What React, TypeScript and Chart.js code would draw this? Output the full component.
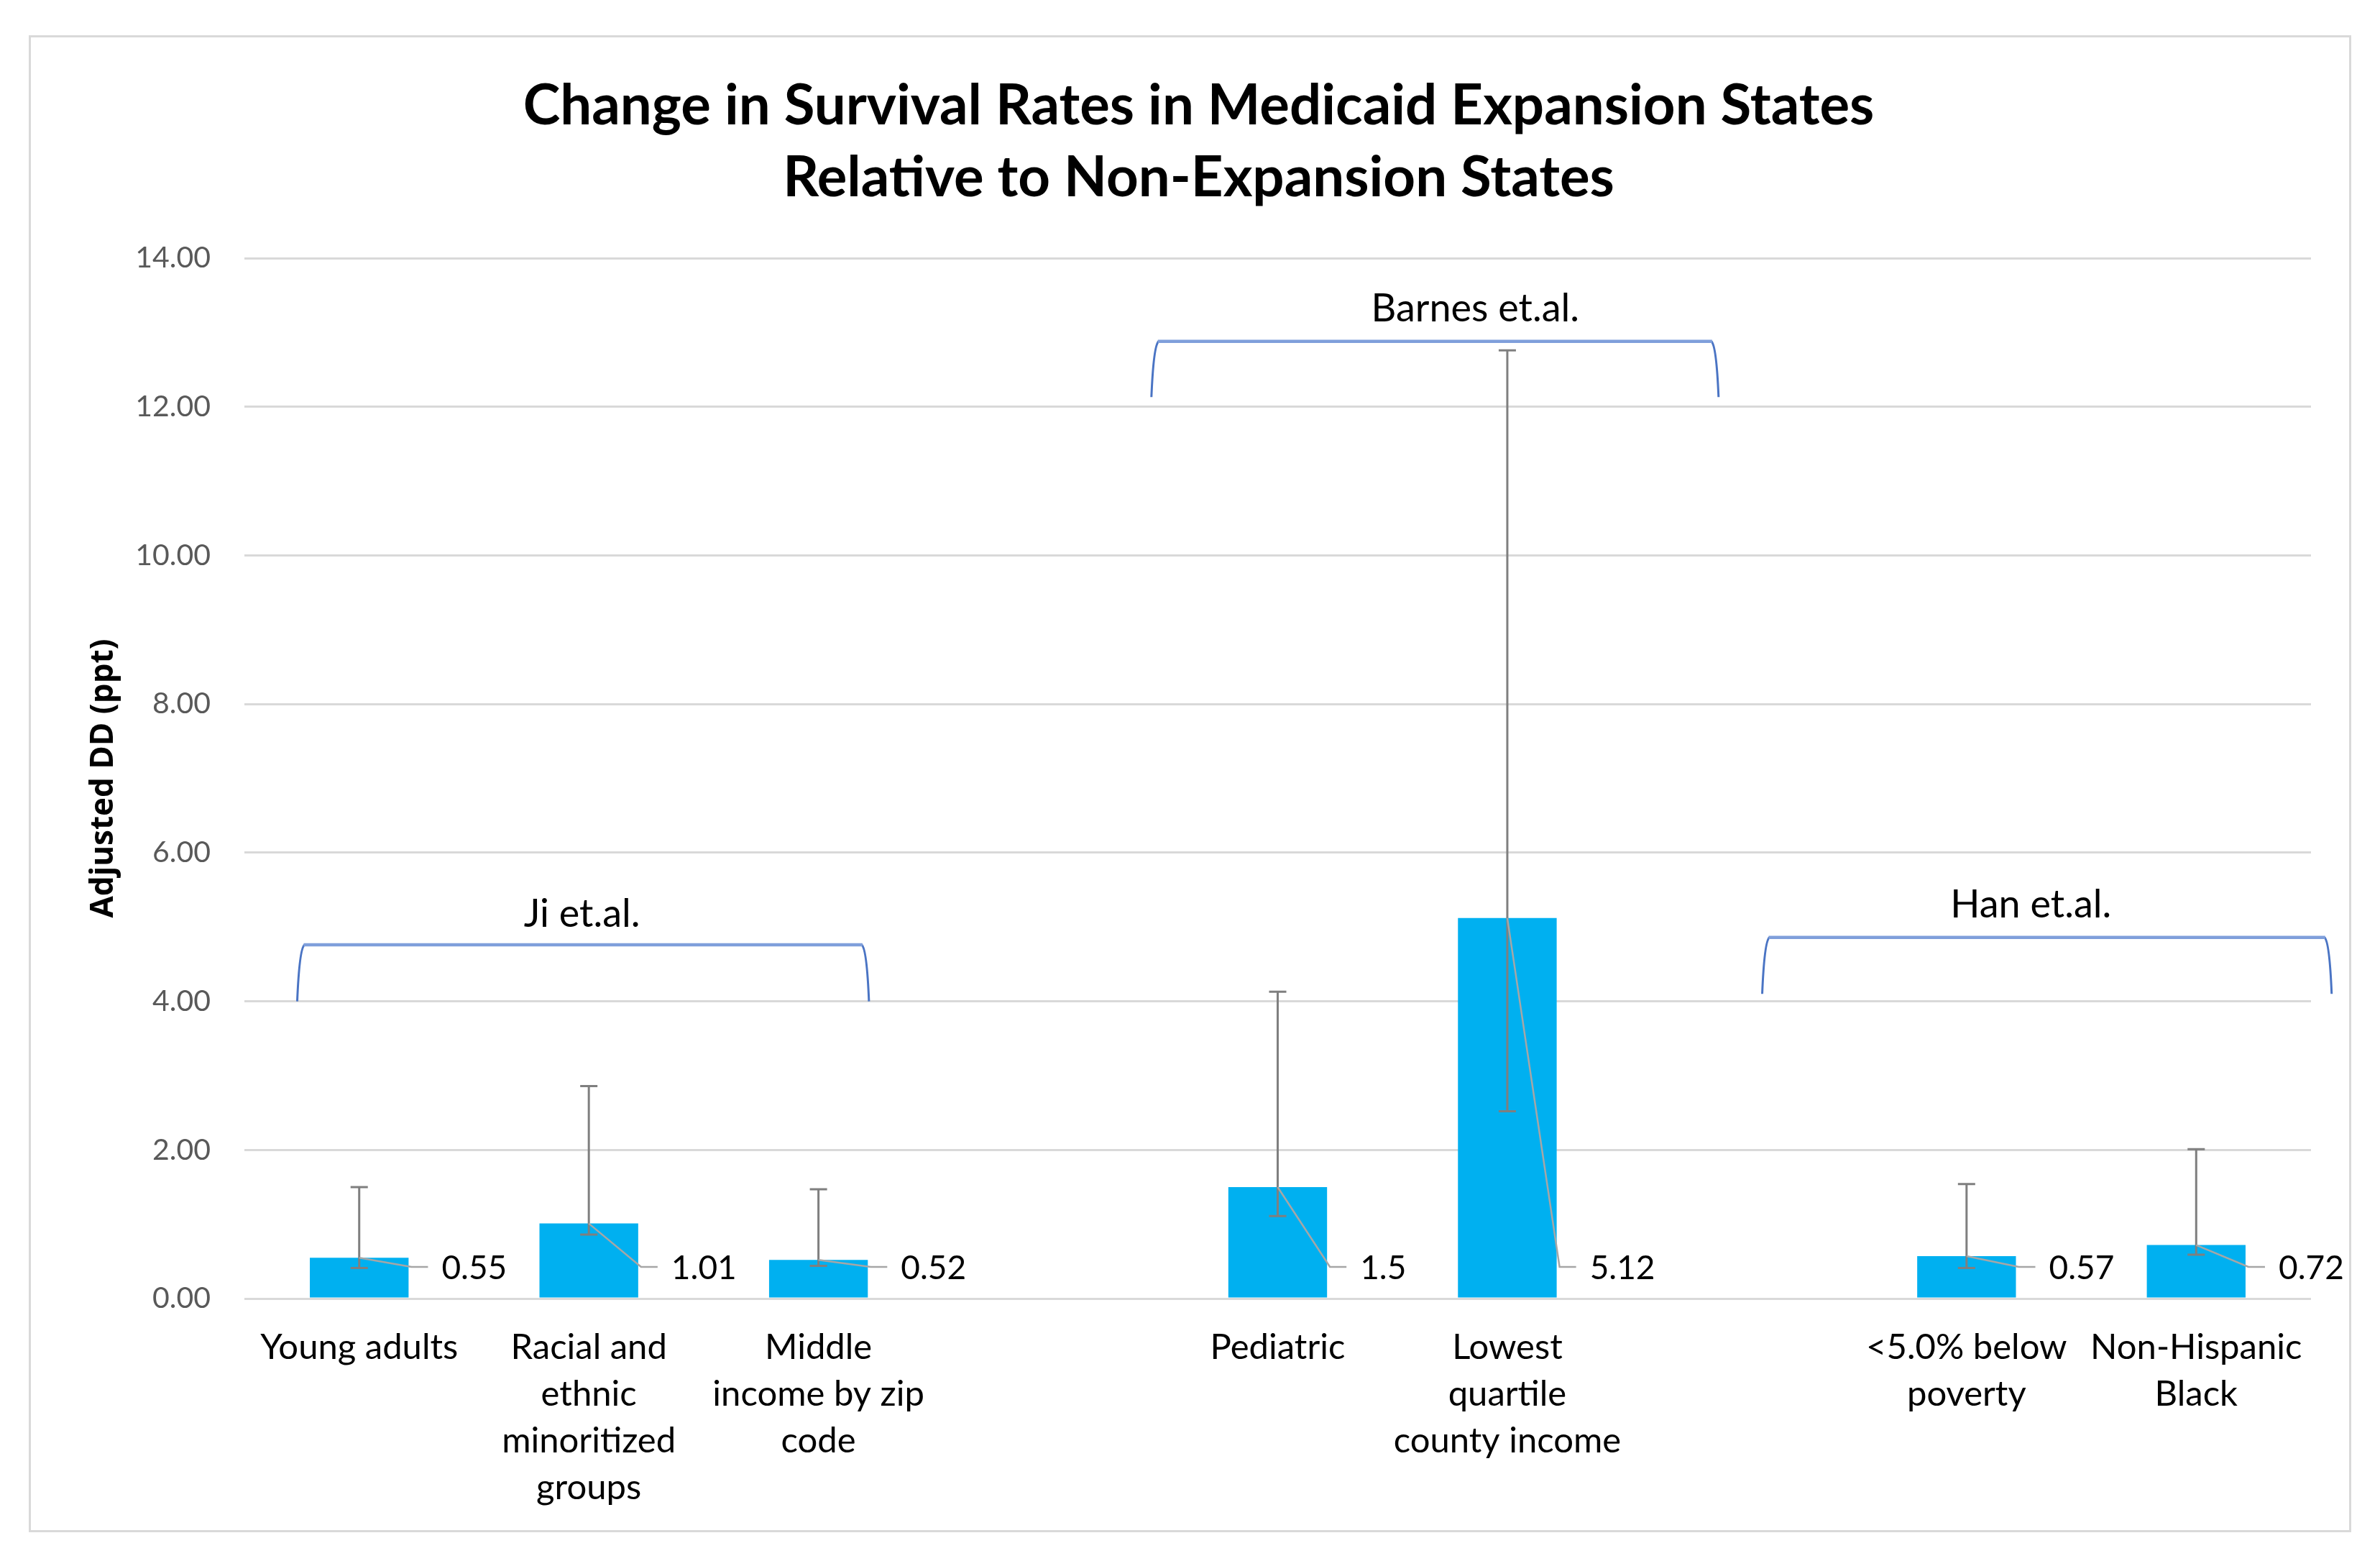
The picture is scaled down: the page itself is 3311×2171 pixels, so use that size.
import React, { useEffect, useRef } from 'react';
import { Chart, registerables } from 'chart.js';

Chart.register(...registerables);

// ---------------- data ----------------
const categories: (string | string[])[] = [
  'Young adults',
  ['Racial and', 'ethnic', 'minoritized', 'groups'],
  ['Middle', 'income by zip', 'code'],
  '',
  'Pediatric',
  ['Lowest', 'quartile', 'county income'],
  '',
  ['<5.0% below', 'poverty'],
  ['Non-Hispanic', 'Black'],
];
const values: (number | null)[] = [0.55, 1.01, 0.52, null, 1.5, 5.12, null, 0.57, 0.72];
const errorLow: (number | null)[] = [0.41, 0.86, 0.44, null, 1.11, 2.52, null, 0.41, 0.59];
const errorHigh: (number | null)[] = [1.5, 2.86, 1.47, null, 4.13, 12.76, null, 1.54, 2.01];
const yTicks = [0, 2, 4, 6, 8, 10, 12, 14];

const studyNames = ['Ji et.al.', 'Barnes et.al.', 'Han et.al.'];
// bracket spans, in category-index units and value units (annotation placement)
const studyFrom = [-0.27, 3.45, 6.11];
const studyTo = [2.22, 5.92, 8.59];
const studyTop = [4.76, 12.88, 4.86];
const studyBottom = [4.0, 12.13, 4.1];
const studyLabelAt = [0.97, 4.86, 7.28];
const studyLabelY = [5.17, 13.32, 5.3];

const TITLE = ['Change in Survival Rates in Medicaid Expansion States', 'Relative to Non-Expansion States'];
const Y_TITLE = 'Adjusted DD (ppt)';

// ---------------- plugins ----------------
const idxToPx = (chart: any, i: number) => {
  const xs = chart.scales.x;
  const p0 = xs.getPixelForValue(0);
  const p1 = xs.getPixelForValue(1);
  return p0 + i * (p1 - p0);
};

const overlayPlugin = {
  id: 'overlay',
  afterDatasetsDraw(chart: any) {
    const ctx = chart.ctx;
    const ys = chart.scales.y;
    const meta = chart.getDatasetMeta(0);
    ctx.save();
    // error bars
    ctx.strokeStyle = '#7f7f7f';
    ctx.lineWidth = 3;
    meta.data.forEach((bar: any, i: number) => {
      const lo = errorLow[i];
      const hi = errorHigh[i];
      if (values[i] == null || lo == null || hi == null) return;
      const x = bar.x;
      const yl = ys.getPixelForValue(lo);
      const yh = ys.getPixelForValue(hi);
      ctx.beginPath();
      ctx.moveTo(x, yl);
      ctx.lineTo(x, yh);
      ctx.moveTo(x - 12, yl);
      ctx.lineTo(x + 12, yl);
      ctx.moveTo(x - 12, yh);
      ctx.lineTo(x + 12, yh);
      ctx.stroke();
    });
    // data labels with leader lines
    const y0 = ys.getPixelForValue(0);
    const labelY = y0 - 44;
    ctx.font = '46px Lato';
    ctx.textAlign = 'left';
    ctx.textBaseline = 'middle';
    meta.data.forEach((bar: any, i: number) => {
      const v = values[i];
      if (v == null) return;
      const half = bar.width / 2;
      const textX = bar.x + half + 46;
      ctx.strokeStyle = '#a6a6a6';
      ctx.lineWidth = 2.5;
      ctx.beginPath();
      ctx.moveTo(bar.x, bar.y);
      ctx.lineTo(textX - 42, labelY);
      ctx.lineTo(textX - 19, labelY);
      ctx.stroke();
      ctx.fillStyle = '#000000';
      ctx.fillText(String(v), textX, labelY + 2);
    });
    // study brackets
    studyNames.forEach((name, k) => {
      const xl = idxToPx(chart, studyFrom[k]);
      const xr = idxToPx(chart, studyTo[k]);
      const yt = ys.getPixelForValue(studyTop[k]);
      const yb = ys.getPixelForValue(studyBottom[k]);
      ctx.strokeStyle = '#4a74c4';
      ctx.lineWidth = 3;
      ctx.beginPath();
      ctx.moveTo(xl, yb);
      ctx.quadraticCurveTo(xl + 3, yt + 6, xl + 10, yt);
      ctx.moveTo(xr, yb);
      ctx.quadraticCurveTo(xr - 3, yt + 6, xr - 10, yt);
      ctx.stroke();
      ctx.strokeStyle = '#7f9fdb';
      ctx.lineWidth = 4.5;
      ctx.beginPath();
      ctx.moveTo(xl + 9, yt);
      ctx.lineTo(xr - 9, yt);
      ctx.stroke();
      ctx.fillStyle = '#000000';
      ctx.font = '54px Lato';
      ctx.textAlign = 'center';
      ctx.textBaseline = 'middle';
      ctx.fillText(name, idxToPx(chart, studyLabelAt[k]), ys.getPixelForValue(studyLabelY[k]));
    });
    ctx.restore();
  },
};

export default function App() {
  const canvasRef = useRef<HTMLCanvasElement | null>(null);

  useEffect(() => {
    document.body.style.margin = '0';
    const canvas = canvasRef.current;
    if (!canvas) return;
    const chart = new Chart(canvas, {
      type: 'bar',
      data: {
        labels: categories as any,
        datasets: [
          {
            data: values as any,
            backgroundColor: '#00b0f0',
            borderWidth: 0,
            barPercentage: 0.43,
            categoryPercentage: 1,
          },
        ],
      },
      options: {
        animation: false,
        responsive: true,
        maintainAspectRatio: false,
        devicePixelRatio: 1,
        layout: { padding: { left: 120, right: 96, top: 0, bottom: 0 } },
        plugins: {
          legend: { display: false },
          tooltip: { enabled: false },
          title: {
            display: true,
            text: TITLE,
            color: '#000000',
            font: { family: 'Lato', size: 78, weight: 'bold', lineHeight: 100 / 78 },
            padding: { top: 98, bottom: 61 },
          },
        },
        scales: {
          x: {
            grid: { display: false },
            border: { display: false },
            ticks: {
              autoSkip: false,
              maxRotation: 0,
              minRotation: 0,
              color: '#000000',
              padding: 28,
              font: { family: 'Lato', size: 49, lineHeight: 65 / 49 },
            },
            afterFit(scale: any) {
              scale.height = 365;
            },
          },
          y: {
            min: 0,
            max: 14,
            afterBuildTicks(scale: any) {
              scale.ticks = yTicks.map((v) => ({ value: v }));
            },
            grid: { color: '#d9d9d9', lineWidth: 3, drawTicks: false },
            border: { display: false },
            ticks: {
              color: '#595959',
              padding: 47,
              font: { family: 'Lato', size: 41 },
              callback: (v: any) => Number(v).toFixed(2),
            },
            title: {
              display: true,
              text: Y_TITLE,
              color: '#000000',
              padding: 0,
              font: { family: 'Open Sans', size: 44, weight: 'bold', lineHeight: 1.1 },
            },
            afterFit(scale: any) {
              scale.width = 220;
            },
          },
        },
      },
      plugins: [overlayPlugin],
    });
    return () => chart.destroy();
  }, []);

  return (
    <div style={{ position: 'fixed', left: 0, top: 0, width: '100vw', height: '100vh', background: '#ffffff' }}>
      <div
        style={{
          position: 'absolute',
          left: 40,
          top: 49,
          width: 3231,
          height: 2082,
          border: '3px solid #d9d9d9',
          boxSizing: 'border-box',
        }}
      />
      <div style={{ position: 'absolute', left: 0, top: 0, width: '100%', height: '100%' }}>
        <canvas ref={canvasRef} />
      </div>
    </div>
  );
}
